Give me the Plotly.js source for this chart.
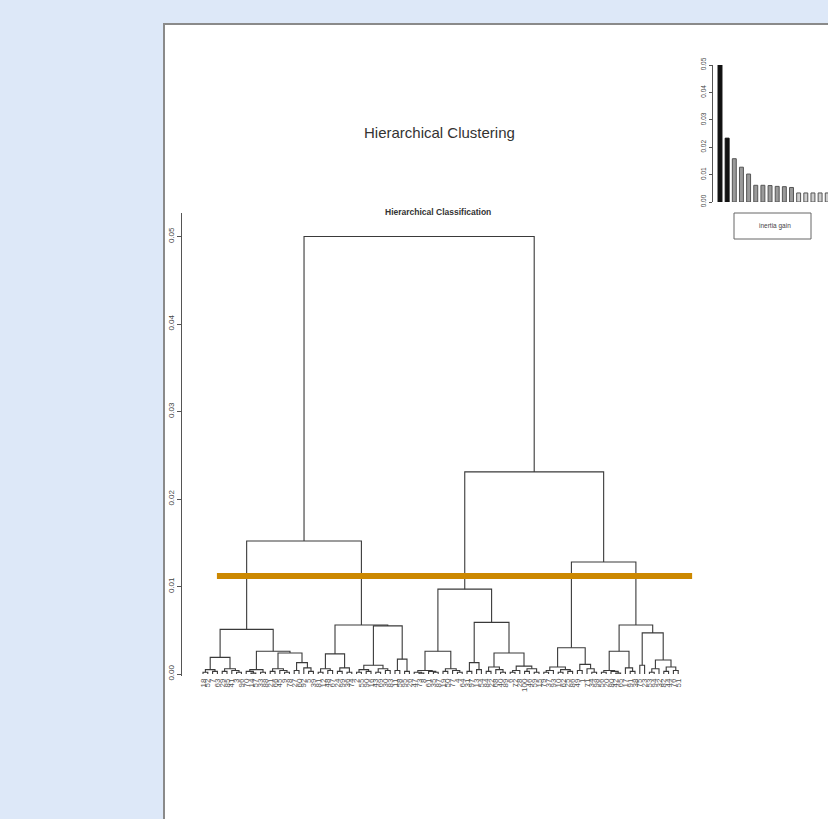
<!DOCTYPE html>
<html>
<head>
<meta charset="utf-8">
<script src="https://cdn.plot.ly/plotly-3.0.1.min.js"></script>
<style>html,body{margin:0;padding:0;background:#dde8f8;}#chart{width:828px;height:819px;}</style>
</head>
<body>
<div id="chart"></div>
<script>
// ---------- DATA ----------
// Dendrogram: node = [mergeHeight, left, right]; leaves are observation labels
const heightRoot = 0.0500;
const heightL = 0.0152;
const heightR = 0.0231;
const treeLL = [0.0051,
  [0.0019,
    [0.0005, [0.0002, 18, 52], [0.0003, 7, 63]],
    [0.0006, [0.0003, 29, 85], [0.0004, 41, [0.0002, 3, 96]]]],
  [0.0026,
    [0.0005, [0.0003, 70, [0.0001, 14, 57]], [0.0002, 33, 88]],
    [0.0024,
      [0.0006, [0.0003, 21, 66], [0.0004, 45, [0.0002, 9, 78]]],
      [0.0013, [0.0004, 27, 60], [0.0007, 92, [0.0003, 5, 39]]]]]];
const treeLR = [0.0056,
  [0.0023,
    [0.0006, [0.0002, 81, 12], [0.0004, 48, 67]],
    [0.0007, [0.0003, 24, 99], [0.0002, 36, 74]]],
  [0.0055,
    [0.0010, [0.0005, [0.0002, 2, 55], [0.0003, 90, 16]], [0.0006, [0.0002, 43, 69], [0.0004, 30, 83]]],
    [0.0017, [0.0004, 11, 58], [0.0003, 95, 26]]]];
const treeRL = [0.0097,
  [0.0026,
    [0.0004, [0.0002, 47, [0.0001, 73, 8]], [0.0003, 61, [0.0002, 35, 87]]],
    [0.0006, [0.0003, 19, 50], [0.0004, 77, [0.0002, 4, 64]]]],
  [0.0059,
    [0.0013, [0.0003, 31, 97], [0.0005, 13, 54]],
    [0.0024,
      [0.0008, [0.0003, 84, 22], [0.0005, 68, [0.0002, 40, 89]]],
      [0.0009, [0.0004, [0.0002, 6, 72], 28], [0.0006, [0.0003, 100, 46], [0.0002, 59, 15]]]]]];
const treeRR = [0.0128,
  [0.0030,
    [0.0008, [0.0004, [0.0002, 79, 37], 93], [0.0005, [0.0002, 10, 62], [0.0003, 25, 86]]],
    [0.0011, [0.0004, 49, 1], [0.0006, 71, [0.0002, 34, 98]]]],
  [0.0056,
    [0.0026,
      [0.0004, [0.0002, 56, 20], [0.0003, 80, [0.0001, 42, 65]]],
      [0.0007, 17, [0.0003, 91, 38]]],
    [0.0047,
      [0.0010, 75, 23],
      [0.0016, [0.0006, [0.0002, 53, 94], 32], [0.0008, [0.0003, 82, 44], [0.0004, 76, 51]]]]]];
const cutHeight = 0.0112;
const heightTicks = [0, 0.01, 0.02, 0.03, 0.04, 0.05];
const heightTickText = ["0.00", "0.01", "0.02", "0.03", "0.04", "0.05"];

// Inset: inertia gain bars
const gainRank = [1, 2, 3, 4, 5, 6, 7, 8, 9, 10, 11, 12, 13, 14, 15, 16];
const gainValues = [0.0500, 0.0233, 0.0158, 0.0127, 0.0102, 0.0061, 0.0061, 0.0060,
                    0.0057, 0.0056, 0.0053, 0.0033, 0.0033, 0.0033, 0.0033, 0.0033];
const gainTicks = [0, 0.01, 0.02, 0.03, 0.04, 0.05];
const gainTickText = ["0.00", "0.01", "0.02", "0.03", "0.04", "0.05"];

// ---------- BUILD ----------
const tree = [heightRoot, [heightL, treeLL, treeLR], [heightR, treeRL, treeRR]];
const st = {n: 0, order: [], xs: [], ys: []};
function walk(node) {
  if (!Array.isArray(node)) {
    const x = st.n++;
    st.order.push(String(node));
    return {x: x, h: 0};
  }
  const h = node[0];
  const A = walk(node[1]);
  const B = walk(node[2]);
  st.xs.push(A.x, A.x, B.x, B.x, null);
  st.ys.push(A.h, h, h, B.h, null);
  return {x: (A.x + B.x) / 2, h: h};
}
walk(tree);
const leafPos = st.order.map((_, i) => i);

const W = 828, H = 819;
const px = v => v / W;
const py = v => 1 - v / H;

const dendro = {
  type: 'scatter', mode: 'lines', x: st.xs, y: st.ys,
  line: {color: '#3a3a3a', width: 1.1}, hoverinfo: 'skip',
  xaxis: 'x', yaxis: 'y', showlegend: false
};
const bars = {
  type: 'bar', x: gainRank, y: gainValues, width: 0.55,
  marker: {
    color: gainValues.map((_, i) => i < 2 ? '#111111' : (i < 11 ? '#9a9a9a' : '#cfcfcf')),
    line: {color: gainValues.map((_, i) => i < 2 ? '#111111' : '#555555'), width: 1}
  },
  xaxis: 'x2', yaxis: 'y2', showlegend: false, hoverinfo: 'skip'
};

const layout = {
  width: W, height: H,
  margin: {l: 0, r: 0, t: 0, b: 0},
  paper_bgcolor: '#dde8f8',
  plot_bgcolor: 'rgba(0,0,0,0)',
  font: {family: 'Liberation Sans, Arial, sans-serif', color: '#333'},
  showlegend: false,
  xaxis: {
    domain: [px(182), 1],
    range: [(182 - 203) / 4.8, (828 - 203) / 4.8],
    tickmode: 'array', tickvals: leafPos, ticktext: st.order,
    tickangle: -90, tickfont: {size: 8, color: '#555'},
    showgrid: false, zeroline: false, showline: false, ticks: '',
    anchor: 'y', fixedrange: true
  },
  yaxis: {
    domain: [1 - 676 / H, 1 - 213 / H],
    range: [(674 - 676) / 8750, (674 - 213) / 8750],
    tickmode: 'array', tickvals: heightTicks, ticktext: heightTickText,
    tickangle: -90, tickfont: {size: 8, color: '#444'},
    ticks: 'outside', ticklen: 4, tickcolor: '#555',
    showline: true, linecolor: '#555', linewidth: 1,
    showgrid: false, zeroline: false, anchor: 'x', fixedrange: true
  },
  xaxis2: {
    domain: [px(713), 1],
    range: [1 + (713 - 720) / 7.15, 1 + (828 - 720) / 7.15],
    showticklabels: false, showgrid: false, zeroline: false, showline: false, ticks: '',
    anchor: 'y2', fixedrange: true
  },
  yaxis2: {
    domain: [py(202), py(65)],
    range: [0, 0.05],
    tickmode: 'array', tickvals: gainTicks, ticktext: gainTickText,
    tickangle: -90, tickfont: {size: 6.5, color: '#444'},
    ticks: 'outside', ticklen: 3, tickcolor: '#555',
    showline: true, linecolor: '#555', linewidth: 1,
    showgrid: false, zeroline: false, anchor: 'x2', fixedrange: true
  },
  shapes: [
    {type: 'rect', xref: 'paper', yref: 'paper', x0: px(164), x1: 1.05, y0: -0.05, y1: py(24),
     fillcolor: '#ffffff', line: {color: '#8a8a8a', width: 2}, layer: 'below'},
    {type: 'line', xref: 'x', yref: 'y', x0: 2.9, x1: 101.9, y0: cutHeight, y1: cutHeight,
     line: {color: '#cc8800', width: 6}},
    {type: 'rect', xref: 'paper', yref: 'paper', x0: px(734), x1: px(811), y0: py(239), y1: py(213),
     fillcolor: 'rgba(0,0,0,0)', line: {color: '#666', width: 1}}
  ],
  annotations: [
    {text: 'Hierarchical Clustering', xref: 'paper', yref: 'paper', x: px(439), y: py(133),
     showarrow: false, xanchor: 'center', yanchor: 'middle', font: {size: 15, color: '#333'}},
    {text: '<b>Hierarchical Classification</b>', xref: 'paper', yref: 'paper', x: px(438), y: py(212),
     showarrow: false, xanchor: 'center', yanchor: 'middle', font: {size: 8.5, color: '#333'}},
    {text: 'inertia gain', xref: 'paper', yref: 'paper', x: px(775), y: py(226),
     showarrow: false, xanchor: 'center', yanchor: 'middle', font: {size: 6.5, color: '#444'}}
  ]
};

Plotly.newPlot('chart', [dendro, bars], layout, {displayModeBar: false, staticPlot: true});
</script>
</body>
</html>
